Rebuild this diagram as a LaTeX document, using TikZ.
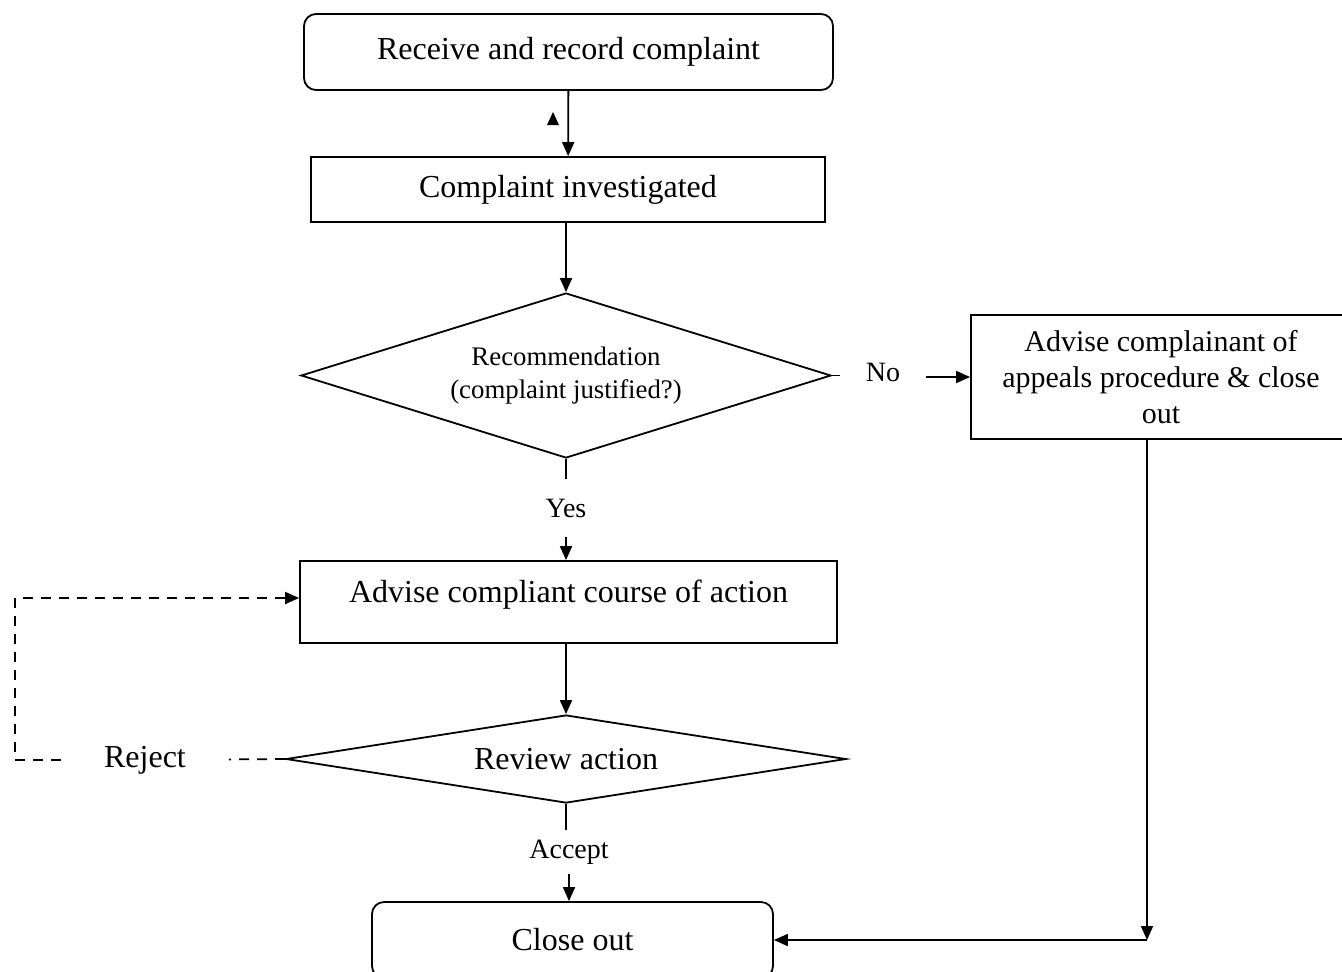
\documentclass[tikz,border=0pt]{standalone}
\usepackage{fontspec}
\setmainfont{Liberation Serif}
\usetikzlibrary{arrows.meta,shapes.geometric}
\tikzstyle{procbox}=[draw=black, line width=0.9pt, align=center, inner sep=0pt,
        font=\fontsize{16}{19}\selectfont]
\tikzstyle{endbox}=[procbox, rounded corners=6pt]
\tikzstyle{decide}=[draw=black, line width=0.9pt, diamond, align=center,
        inner sep=0pt]
\tikzstyle{lbl}=[inner xsep=13pt, inner ysep=10pt, outer sep=0pt,
        font=\fontsize{14}{17}\selectfont]

\begin{document}
\begin{tikzpicture}[x=0.5pt, y=-0.5pt, line width=0.9pt,
        >={Triangle[length=7pt,width=6pt]}]
        \useasboundingbox (0,0) rectangle (1342,971);
        \clip (0,0) rectangle (1342,971);

        \node[endbox, minimum width=264.5pt, minimum height=38pt] (recv) at (568.5,52) {Receive and record complaint};
        \node[procbox, minimum width=257pt, minimum height=32.5pt] (invest) at (568,189.5) {Complaint investigated};
        \node[decide, aspect=3.2, minimum width=265pt, minimum height=82.5pt,
            font=\fontsize{13.4}{16.5}\selectfont] (justif) at (566,375.5) {Recommendation\\(complaint justified?)};
        \node[procbox, minimum width=190pt, minimum height=62pt,
            font=\fontsize{15}{18}\selectfont] (appeal) at (1161,377) {Advise complainant of\\appeals procedure \& close\\out};
        \node[lbl] (no) at (883,372) {No};
        \node[lbl] (yes) at (566,508) {Yes};
        \node[procbox, minimum width=268.5pt, minimum height=41pt,
            text height=11pt, text depth=11pt] (advise) at (568.5,602) {Advise compliant course of action};
        \node[decide, aspect=6.4, minimum width=280pt, minimum height=44pt,
            font=\fontsize{16}{19}\selectfont] (review) at (566,759) {Review action};
        \node[lbl, inner xsep=21.5pt, font=\fontsize{16}{19}\selectfont] (reject) at (145,760) {Reject};
        \node[lbl, inner ysep=5pt] (accept) at (569,852) {Accept};
        \node[endbox, minimum width=200.5pt, minimum height=38pt] (close) at (572.5,940) {Close out};
        \coordinate (loopL) at (15,598);
        \coordinate (cornerR) at (1147,940);

        % main line
        \draw[->] (recv) -- (invest);
        \fill (547,125) -- (559,125) -- (553,112) -- cycle;
        \draw[->] (invest.south -| justif.north) -- (justif.north);
        \draw (justif) -- (yes);
        \draw[->] (yes) -- (yes |- advise.north);
        \draw[->] (advise.south -| review.north) -- (review.north);
        \draw (review.south) -- (review.south |- accept.north);
        \draw[->] (accept) -- (close.north -| accept);

        % no branch
        \draw (justif.east) -- (justif.east -| no.west);
        \draw[->] (no.east |- appeal.west) -- (appeal.west);
        \draw[->] (appeal.south -| cornerR) -- (cornerR);
        \draw[->] (cornerR) -- (close);

        % reject loop
        \draw[dash pattern=on 5pt off 4pt] (review.west) -- (reject);
        \draw[->, dash pattern=on 5pt off 4pt] (reject.west) -| (loopL)
            -- (advise.west |- loopL);

    \end{tikzpicture}
\end{document}
